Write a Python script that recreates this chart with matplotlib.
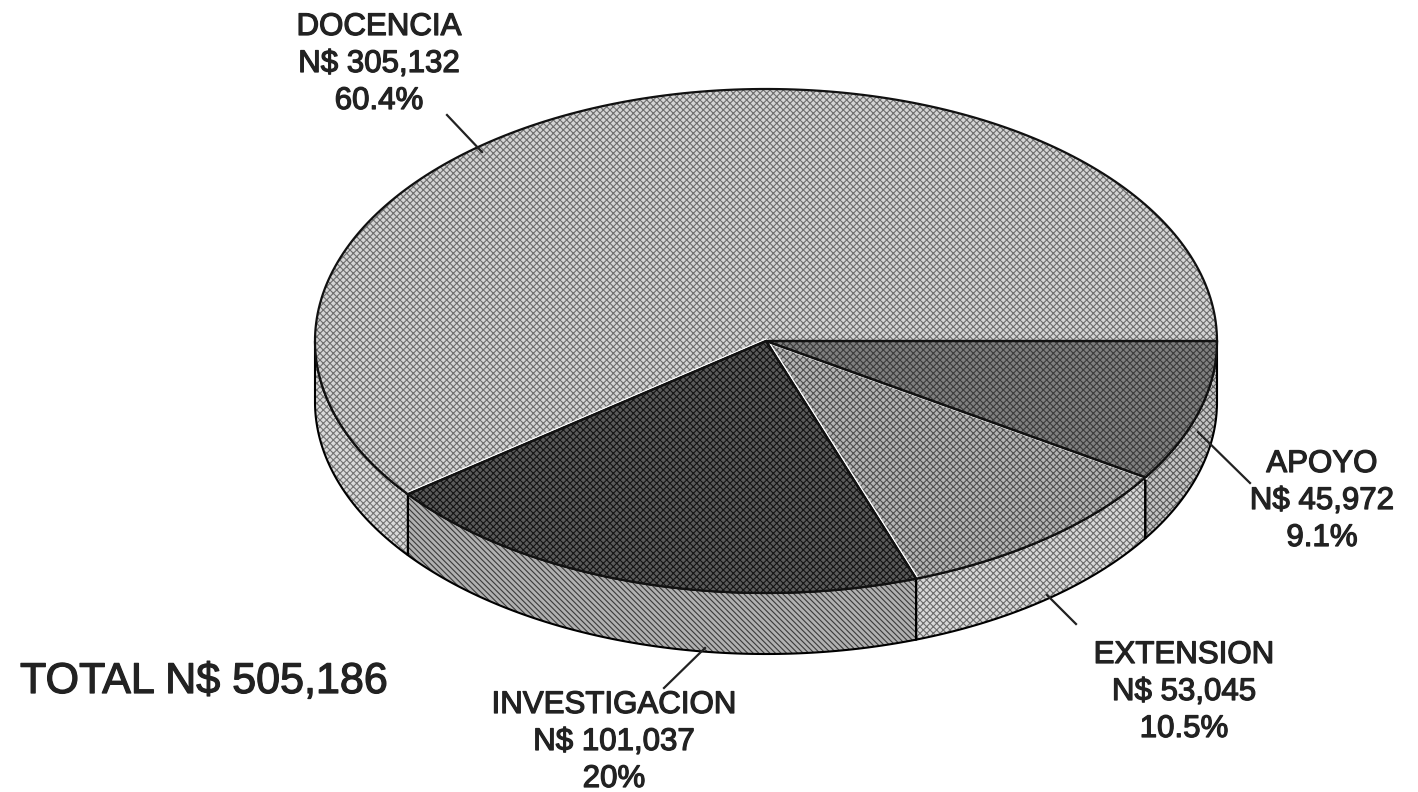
import numpy as np
import matplotlib
matplotlib.use('Agg')
import matplotlib.pyplot as plt
from matplotlib.patches import Polygon
import matplotlib.patheffects as pe

plt.rcParams['font.family'] = ['Liberation Sans', 'DejaVu Sans']
plt.rcParams['hatch.linewidth'] = 0.8

categories = ['APOYO', 'EXTENSION', 'INVESTIGACION', 'DOCENCIA']
amounts = [45972, 53045, 101037, 305132]
amount_labels = ['N$ 45,972', 'N$ 53,045', 'N$ 101,037', 'N$ 305,132']
pct_labels = ['9.1%', '10.5%', '20%', '60.4%']
total_label = 'TOTAL N$ 505,186'

# pie geometry in picture pixels
cx, cy = 766, 341
rx, ry = 451, 252
depth = 61

# top face (base, dither), side face (base, dither, hatch)
top_colors = [('#808080', '#3c3c3c'), ('#b4b4b4', '#505050'), ('#5a5a5a', '#141414'), ('#d4d4d4', '#6e6e6e')]
side_colors = [('#c4c4c4', '#5a5a5a', 'xxxxx'), ('#d8d8d8', '#6c6c6c', 'xxxxx'),
               ('#b0b0b0', '#3a3a3a', '\\\\\\\\\\\\'), ('#dadada', '#747474', 'xxxxx')]
# leader: start, end, label centre x, first line y
leaders = [((1198, 432), (1250, 483), 1322, 464),
           ((1047, 595), (1076, 624), 1184, 655),
           ((705, 648), (664, 688), 614, 705),
           ((447, 115), (482, 152), 379, 27)]


def rim(a0, a1, dy=0):
    t = np.radians(np.linspace(a0, a1, 200))
    return np.column_stack([cx + rx * np.cos(t), cy + dy + ry * np.sin(t)])


fig = plt.figure(figsize=(14.18, 7.92), dpi=100)
ax = fig.add_axes([0, 0, 1, 1])
ax.set_xlim(0, 1418)
ax.set_ylim(792, 0)
ax.axis('off')

angles = np.concatenate([[0], np.cumsum(amounts) / np.sum(amounts) * 360])

# side walls, only the front half shows
for i in range(len(amounts)):
    a0, a1 = angles[i], min(angles[i + 1], 180)
    if a0 >= 180:
        continue
    wall = np.vstack([rim(a0, a1), rim(a0, a1, depth)[::-1]])
    base, dith, hatch = side_colors[i]
    ax.add_patch(Polygon(wall, closed=True, fc=base, ec=dith, lw=0, hatch=hatch, zorder=1))
    ax.add_patch(Polygon(wall, closed=True, fc='none', ec='black', lw=1.5, zorder=2))

# top slices
for i in range(len(amounts)):
    face = np.vstack([[cx, cy], rim(angles[i], angles[i + 1])])
    base, dith = top_colors[i]
    ax.add_patch(Polygon(face, closed=True, fc=base, ec=dith, lw=0, hatch='xxxxx', zorder=3))

# white highlight next to the slice edges, then the black edges
for i, a in enumerate(angles[1:-1]):
    p = rim(a, a + 0.01)[0]
    off = [(1.5, 1.5), (1.5, -1), (0, -1.8)][i]
    ax.plot([cx + off[0], p[0] + off[0]], [cy + off[1], p[1] + off[1]], color='white', lw=1.2, zorder=4)
for i in range(len(amounts)):
    face = np.vstack([[cx, cy], rim(angles[i], angles[i + 1])])
    ax.add_patch(Polygon(face, closed=True, fc='none', ec='#111111', lw=1.6, zorder=5))

stroke = [pe.withStroke(linewidth=0.9, foreground='#222222')]
for i in range(len(amounts)):
    start, end, tx, ty = leaders[i]
    ax.plot([start[0], end[0]], [start[1], end[1]], color='#222222', lw=1.6, zorder=6)
    for j, s in enumerate([categories[i], amount_labels[i], pct_labels[i]]):
        ax.text(tx, ty + j * 37, s, ha='center', va='center', fontsize=22.5, color='#222222',
                path_effects=stroke, zorder=7)

ax.text(20, 682, total_label, ha='left', va='center', fontsize=31, color='#222222',
        path_effects=stroke, zorder=7)

fig.savefig('out.png', dpi=100, facecolor='white')
